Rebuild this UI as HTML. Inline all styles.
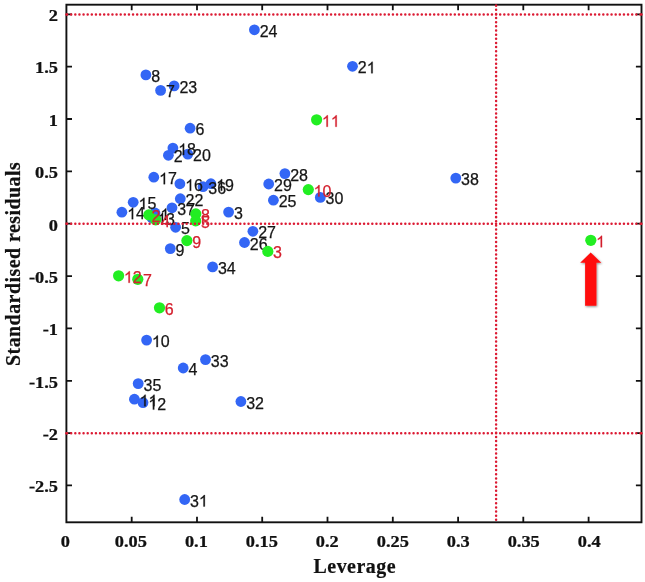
<!DOCTYPE html>
<html><head><meta charset="utf-8"><title>Leverage plot</title>
<style>
html,body{margin:0;padding:0;background:#fff;}
body{width:645px;height:582px;overflow:hidden;font-family:"Liberation Sans",sans-serif;}
svg{display:block;filter:blur(0.35px);}
.tk{font-family:"Liberation Serif",serif;font-weight:bold;font-size:16.4px;fill:#111;stroke:#111;stroke-width:0.25px;}
.ax{font-family:"Liberation Serif",serif;font-weight:bold;font-size:19.9px;fill:#111;stroke:#111;stroke-width:0.22px;letter-spacing:0.5px;}
.ay{letter-spacing:0.48px;}
.lb{font-family:"Liberation Sans",sans-serif;font-size:16px;fill:#151515;stroke:#151515;stroke-width:0.25px;}
.lr{font-family:"Liberation Sans",sans-serif;font-size:16px;fill:#d4202e;stroke:#d4202e;stroke-width:0.25px;}
</style></head><body>
<svg width="645" height="582" viewBox="0 0 645 582">
<defs><path id="one" vector-effect="non-scaling-stroke" transform="scale(0.0078125)" d="M763 0H583V-1147Q518 -1085 412.5 -1023T223 -930V-1104Q373 -1174.5 485 -1274.5T644 -1469H763Z"/><filter id="sh" x="-30%" y="-10%" width="170%" height="130%"><feDropShadow dx="0.8" dy="1" stdDeviation="0.8" flood-color="#000" flood-opacity="0.45"/></filter></defs>
<rect x="0" y="0" width="645" height="582" fill="#fff"/>
<rect x="66.4" y="4.7" width="575.1" height="517.6" fill="none" stroke="#111" stroke-width="1.9"/>
<path d="M131.7 522.3v-5.6M131.7 4.7v5.6M197.0 522.3v-5.6M197.0 4.7v5.6M262.2 522.3v-5.6M262.2 4.7v5.6M327.5 522.3v-5.6M327.5 4.7v5.6M392.8 522.3v-5.6M392.8 4.7v5.6M458.1 522.3v-5.6M458.1 4.7v5.6M523.3 522.3v-5.6M523.3 4.7v5.6M588.6 522.3v-5.6M588.6 4.7v5.6M66.4 485.4h5.6M641.5 485.4h-5.6M66.4 433.1h5.6M641.5 433.1h-5.6M66.4 380.8h5.6M641.5 380.8h-5.6M66.4 328.4h5.6M641.5 328.4h-5.6M66.4 276.1h5.6M641.5 276.1h-5.6M66.4 223.7h5.6M641.5 223.7h-5.6M66.4 171.3h5.6M641.5 171.3h-5.6M66.4 119.0h5.6M641.5 119.0h-5.6M66.4 66.6h5.6M641.5 66.6h-5.6M66.4 14.3h5.6M641.5 14.3h-5.6" stroke="#111" stroke-width="1.8" fill="none"/>
<text class="tk" transform="translate(65.4 547.2) scale(1.12 1)" text-anchor="middle">0</text>
<text class="tk" transform="translate(130.9 547.2) scale(1.12 1)" text-anchor="middle">0.05</text>
<text class="tk" transform="translate(196.4 547.2) scale(1.12 1)" text-anchor="middle">0.1</text>
<text class="tk" transform="translate(261.8 547.2) scale(1.12 1)" text-anchor="middle">0.15</text>
<text class="tk" transform="translate(327.3 547.2) scale(1.12 1)" text-anchor="middle">0.2</text>
<text class="tk" transform="translate(392.8 547.2) scale(1.12 1)" text-anchor="middle">0.25</text>
<text class="tk" transform="translate(458.3 547.2) scale(1.12 1)" text-anchor="middle">0.3</text>
<text class="tk" transform="translate(523.7 547.2) scale(1.12 1)" text-anchor="middle">0.35</text>
<text class="tk" transform="translate(589.2 547.2) scale(1.12 1)" text-anchor="middle">0.4</text>
<text class="tk" transform="translate(58.0 492.2) scale(1.12 1)" text-anchor="end">-2.5</text>
<text class="tk" transform="translate(58.0 439.9) scale(1.12 1)" text-anchor="end">-2</text>
<text class="tk" transform="translate(58.0 387.6) scale(1.12 1)" text-anchor="end">-1.5</text>
<text class="tk" transform="translate(58.0 335.2) scale(1.12 1)" text-anchor="end">-1</text>
<text class="tk" transform="translate(58.0 282.9) scale(1.12 1)" text-anchor="end">-0.5</text>
<text class="tk" transform="translate(58.0 230.5) scale(1.12 1)" text-anchor="end">0</text>
<text class="tk" transform="translate(58.0 178.2) scale(1.12 1)" text-anchor="end">0.5</text>
<text class="tk" transform="translate(58.0 125.8) scale(1.12 1)" text-anchor="end">1</text>
<text class="tk" transform="translate(58.0 73.4) scale(1.12 1)" text-anchor="end">1.5</text>
<text class="tk" transform="translate(58.0 21.1) scale(1.12 1)" text-anchor="end">2</text>
<text class="ax" x="354.8" y="573.2" text-anchor="middle">Leverage</text>
<text class="ax ay" transform="translate(19.6 263.9) rotate(-90)" text-anchor="middle">Standardised residuals</text>
<circle cx="254.4" cy="29.8" r="5.4" fill="#3366f5"/>
<circle cx="145.9" cy="74.9" r="5.4" fill="#3366f5"/>
<circle cx="160.6" cy="90.4" r="5.4" fill="#3366f5"/>
<circle cx="174.1" cy="85.9" r="5.4" fill="#3366f5"/>
<circle cx="190.1" cy="128.2" r="5.4" fill="#3366f5"/>
<circle cx="172.9" cy="148.1" r="5.4" fill="#3366f5"/>
<circle cx="168.4" cy="155.3" r="5.4" fill="#3366f5"/>
<circle cx="187.8" cy="154.1" r="5.4" fill="#3366f5"/>
<circle cx="153.8" cy="177.2" r="5.4" fill="#3366f5"/>
<circle cx="179.9" cy="183.8" r="5.4" fill="#3366f5"/>
<circle cx="203.0" cy="186.7" r="5.4" fill="#3366f5"/>
<circle cx="210.9" cy="183.7" r="5.4" fill="#3366f5"/>
<circle cx="180.3" cy="198.7" r="5.4" fill="#3366f5"/>
<circle cx="133.2" cy="202.3" r="5.4" fill="#3366f5"/>
<circle cx="121.9" cy="212.2" r="5.4" fill="#3366f5"/>
<circle cx="172.0" cy="207.8" r="5.4" fill="#3366f5"/>
<circle cx="155.0" cy="213.0" r="5.4" fill="#3366f5"/>
<circle cx="151.8" cy="217.6" r="5.4" fill="#3366f5"/>
<circle cx="228.6" cy="212.1" r="5.4" fill="#3366f5"/>
<circle cx="175.6" cy="227.3" r="5.4" fill="#3366f5"/>
<circle cx="170.3" cy="248.6" r="5.4" fill="#3366f5"/>
<circle cx="252.9" cy="231.3" r="5.4" fill="#3366f5"/>
<circle cx="244.5" cy="242.5" r="5.4" fill="#3366f5"/>
<circle cx="212.6" cy="266.9" r="5.4" fill="#3366f5"/>
<circle cx="284.9" cy="173.6" r="5.4" fill="#3366f5"/>
<circle cx="268.7" cy="184.0" r="5.4" fill="#3366f5"/>
<circle cx="273.4" cy="200.2" r="5.4" fill="#3366f5"/>
<circle cx="320.3" cy="197.4" r="5.4" fill="#3366f5"/>
<circle cx="455.8" cy="178.1" r="5.4" fill="#3366f5"/>
<circle cx="352.5" cy="66.3" r="5.4" fill="#3366f5"/>
<circle cx="146.6" cy="340.1" r="5.4" fill="#3366f5"/>
<circle cx="183.2" cy="368.0" r="5.4" fill="#3366f5"/>
<circle cx="205.5" cy="359.6" r="5.4" fill="#3366f5"/>
<circle cx="138.2" cy="383.6" r="5.4" fill="#3366f5"/>
<circle cx="134.4" cy="399.2" r="5.4" fill="#3366f5"/>
<circle cx="143.0" cy="402.6" r="5.4" fill="#3366f5"/>
<circle cx="240.9" cy="401.5" r="5.4" fill="#3366f5"/>
<circle cx="184.7" cy="499.5" r="5.4" fill="#3366f5"/>
<text class="lb" x="259.7" y="36.8">24</text>
<text class="lb" x="151.2" y="81.9">8</text>
<text class="lb" x="165.9" y="97.4">7</text>
<text class="lb" x="179.4" y="92.9">23</text>
<text class="lb" x="195.4" y="135.2">6</text>
<use href="#one" class="lb" x="178.2" y="155.1"/><text class="lb" x="187.1" y="155.1">8</text>
<text class="lb" x="173.7" y="162.3">2</text>
<text class="lb" x="193.1" y="161.1">20</text>
<use href="#one" class="lb" x="159.1" y="184.2"/><text class="lb" x="168.0" y="184.2">7</text>
<use href="#one" class="lb" x="185.2" y="190.8"/><text class="lb" x="194.1" y="190.8">6</text>
<text class="lb" x="208.3" y="193.7">36</text>
<use href="#one" class="lb" x="216.2" y="190.7"/><text class="lb" x="225.1" y="190.7">9</text>
<text class="lb" x="185.6" y="205.7">22</text>
<use href="#one" class="lb" x="138.5" y="209.3"/><text class="lb" x="147.4" y="209.3">5</text>
<use href="#one" class="lb" x="127.2" y="219.2"/><text class="lb" x="136.1" y="219.2">4</text>
<text class="lb" x="177.3" y="214.8">37</text>
<use href="#one" class="lb" x="160.3" y="220.0"/>
<use href="#one" class="lb" x="157.1" y="224.6"/><text class="lb" x="166.0" y="224.6">3</text>
<text class="lb" x="233.9" y="219.1">3</text>
<text class="lb" x="180.9" y="234.3">5</text>
<text class="lb" x="175.6" y="255.6">9</text>
<text class="lb" x="258.2" y="238.3">27</text>
<text class="lb" x="249.8" y="249.5">26</text>
<text class="lb" x="217.9" y="273.9">34</text>
<text class="lb" x="290.2" y="180.6">28</text>
<text class="lb" x="274.0" y="191.0">29</text>
<text class="lb" x="278.7" y="207.2">25</text>
<text class="lb" x="325.6" y="204.4">30</text>
<text class="lb" x="461.1" y="185.1">38</text>
<text class="lb" x="357.8" y="73.3">2</text><use href="#one" class="lb" x="366.7" y="73.3"/>
<use href="#one" class="lb" x="151.9" y="347.1"/><text class="lb" x="160.8" y="347.1">0</text>
<text class="lb" x="188.5" y="375.0">4</text>
<text class="lb" x="210.8" y="366.6">33</text>
<text class="lb" x="143.5" y="390.6">35</text>
<use href="#one" class="lb" x="139.7" y="406.2"/><use href="#one" class="lb" x="148.6" y="406.2"/>
<use href="#one" class="lb" x="148.3" y="409.6"/><text class="lb" x="157.2" y="409.6">2</text>
<text class="lb" x="246.2" y="408.5">32</text>
<text class="lb" x="190.0" y="506.5">3</text><use href="#one" class="lb" x="198.9" y="506.5"/>
<circle cx="316.6" cy="119.8" r="5.6000000000000005" fill="#22ee22"/>
<circle cx="308.3" cy="189.6" r="5.6000000000000005" fill="#22ee22"/>
<circle cx="195.8" cy="213.9" r="5.6000000000000005" fill="#22ee22"/>
<circle cx="195.7" cy="220.9" r="5.6000000000000005" fill="#22ee22"/>
<circle cx="186.9" cy="240.6" r="5.6000000000000005" fill="#22ee22"/>
<circle cx="267.8" cy="251.4" r="5.6000000000000005" fill="#22ee22"/>
<circle cx="118.6" cy="275.8" r="5.6000000000000005" fill="#22ee22"/>
<circle cx="137.8" cy="279.3" r="5.6000000000000005" fill="#22ee22"/>
<circle cx="159.5" cy="307.8" r="5.6000000000000005" fill="#22ee22"/>
<circle cx="590.8" cy="240.3" r="5.6000000000000005" fill="#22ee22"/>
<circle cx="148.8" cy="214.9" r="5.6000000000000005" fill="#22ee22"/>
<circle cx="155.7" cy="219.8" r="5.6000000000000005" fill="#22ee22"/>
<use href="#one" class="lr" x="321.9" y="126.8"/><use href="#one" class="lr" x="330.8" y="126.8"/>
<use href="#one" class="lr" x="313.6" y="196.6"/><text class="lr" x="322.5" y="196.6">0</text>
<text class="lr" x="201.1" y="220.9">8</text>
<text class="lr" x="201.0" y="227.9">5</text>
<text class="lr" x="192.2" y="247.6">9</text>
<text class="lr" x="273.1" y="258.4">3</text>
<use href="#one" class="lr" x="123.9" y="282.8"/><text class="lr" x="132.8" y="282.8">2</text>
<text class="lr" x="143.1" y="286.3">7</text>
<text class="lr" x="164.8" y="314.8">6</text>
<use href="#one" class="lr" x="596.1" y="247.3"/>
<text class="lr" x="151.5" y="221.9">2</text>
<text class="lr" x="161.0" y="226.8">4</text>
<circle cx="66.4" cy="14.4" r="1.2" fill="#dc1a33"/><circle cx="641.5" cy="14.4" r="1.2" fill="#dc1a33"/><line x1="67.06" y1="14.4" x2="641.5" y2="14.4" stroke="#dc1a33" stroke-width="2.5" stroke-linecap="round" stroke-dasharray="0.01 4.115"/>
<circle cx="66.4" cy="223.8" r="1.2" fill="#dc1a33"/><circle cx="641.5" cy="223.8" r="1.2" fill="#dc1a33"/><line x1="67.06" y1="223.8" x2="641.5" y2="223.8" stroke="#dc1a33" stroke-width="2.5" stroke-linecap="round" stroke-dasharray="0.01 4.115"/>
<circle cx="66.4" cy="433.2" r="1.2" fill="#dc1a33"/><circle cx="641.5" cy="433.2" r="1.2" fill="#dc1a33"/><line x1="67.06" y1="433.2" x2="641.5" y2="433.2" stroke="#dc1a33" stroke-width="2.5" stroke-linecap="round" stroke-dasharray="0.01 4.115"/>
<line x1="496.1" y1="5.62" x2="496.1" y2="522.3" stroke="#dc1a33" stroke-width="2.5" stroke-linecap="round" stroke-dasharray="0.01 4.137"/>
<polygon points="590.7,252.4 601.3,262.8 596.4,262.8 596.4,305.7 585.1,305.7 585.1,262.8 580.2,262.8" fill="#ff0a0a" filter="url(#sh)"/>
</svg>
</body></html>
